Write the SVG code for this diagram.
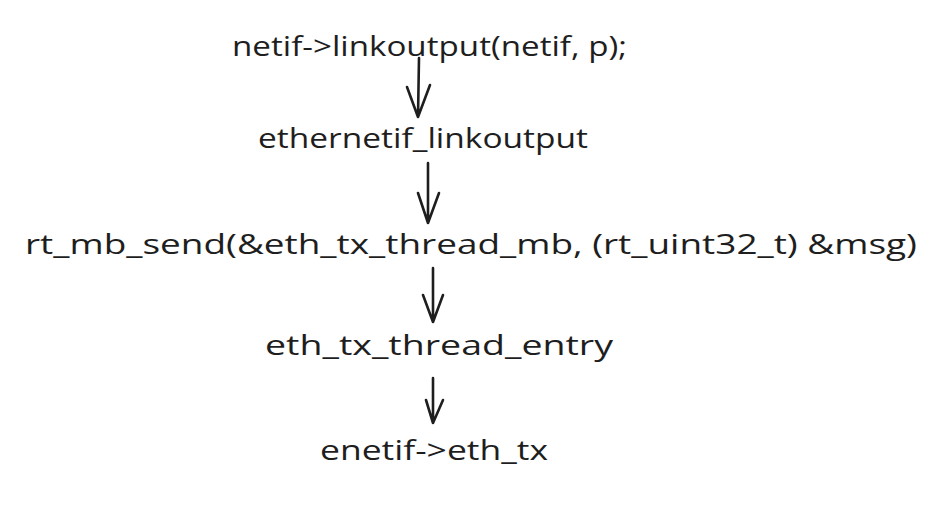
<svg xmlns="http://www.w3.org/2000/svg" width="943" height="513" viewBox="0 0 943 513">
<style>
.t{font-family:"Open Sans","Liberation Sans",sans-serif;font-size:27px;fill:#1e1e1e;}
.c{fill:none;stroke:#1e1e1e;stroke-width:2.6;stroke-linecap:round;stroke-linejoin:round;}
</style>
<rect width="943" height="513" fill="#ffffff"/>
<g id="n1"><text class="t" x="232" y="56" textLength="395" lengthAdjust="spacingAndGlyphs">netif-&gt;linkoutput(netif, p);</text></g>
<g id="n2"><text class="t" x="258" y="148" textLength="330" lengthAdjust="spacingAndGlyphs">ethernetif_linkoutput</text></g>
<g id="n3"><text class="t" x="25" y="254" textLength="892" lengthAdjust="spacingAndGlyphs">rt_mb_send(&amp;eth_tx_thread_mb, (rt_uint32_t) &amp;msg)</text></g>
<g id="n4"><text class="t" x="265" y="355" textLength="348" lengthAdjust="spacingAndGlyphs">eth_tx_thread_entry</text></g>
<g id="n5"><text class="t" x="320" y="460" textLength="228" lengthAdjust="spacingAndGlyphs">enetif-&gt;eth_tx</text></g>
<g id="connectors">
<path class="c" d="M419 58 L418 117 M407 87 L418 117 L430 85"/>
<path class="c" d="M428 163 L428 223 M418 193 L428 223 L439 193"/>
<path class="c" d="M433 268 L433 322 M423 295 L433 322 L443 295"/>
<path class="c" d="M433 378 L433 423 M426 400 L433 423 L443 400"/>
</g>
</svg>
